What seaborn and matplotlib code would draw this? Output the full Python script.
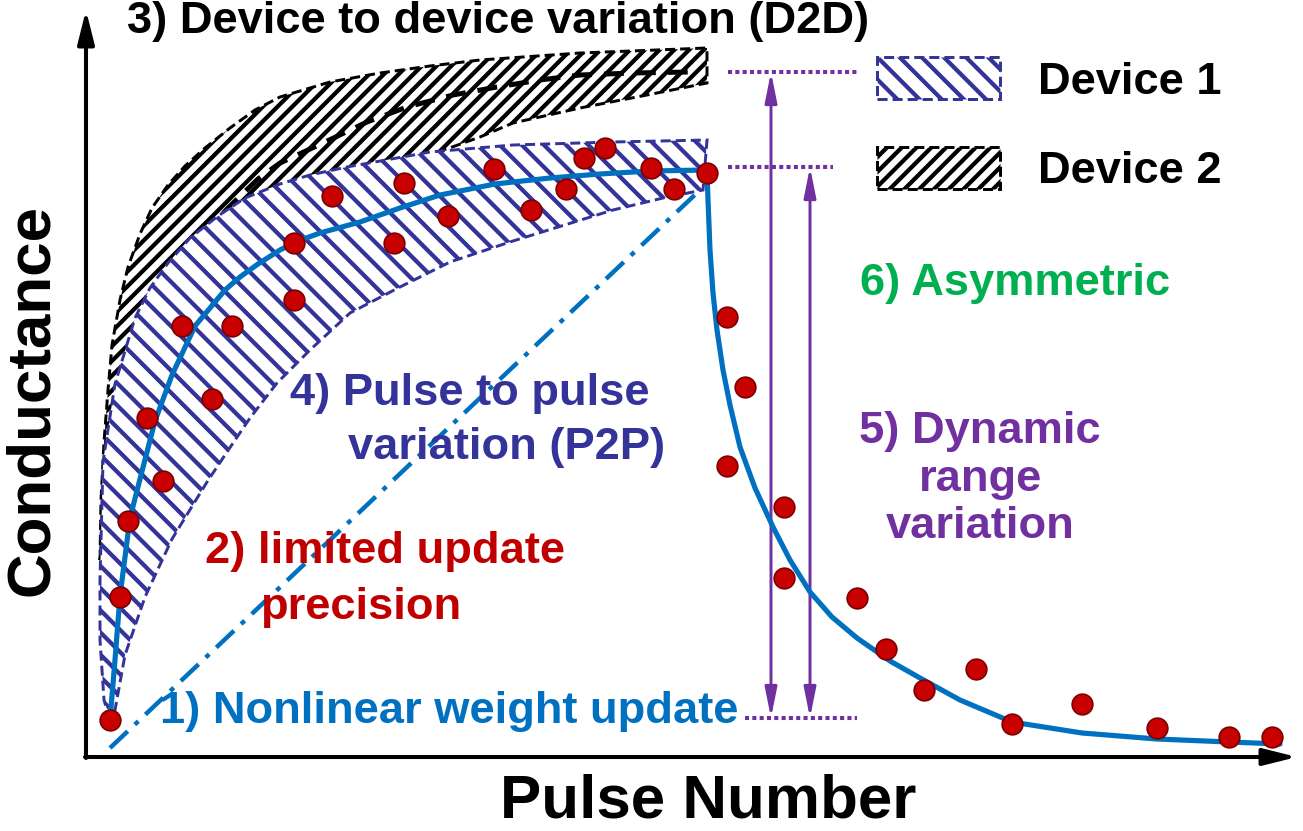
import numpy as np
import matplotlib
matplotlib.use("Agg")
import matplotlib.pyplot as plt
from matplotlib.patches import Patch
import seaborn as sns

# --- data (pulse number, conductance) ---
pot_pulse = [24, 34, 42, 61, 77, 96, 126, 146, 208, 208, 246, 308, 318, 362, 408, 445, 480, 498, 519, 565, 588, 621]
pot_cond = [37, 160, 236, 339, 276, 431, 358, 431, 457, 514, 561, 514, 574, 541, 588, 547, 568, 599, 609, 589, 568, 584]
dep_pulse = [641, 659, 641, 698, 698, 771, 800, 838, 890, 926, 996, 1071, 1143, 1186]
dep_cond = [440, 370, 291, 250, 179, 159, 108, 67, 88, 33, 53, 29, 20, 20]

fit_pot_x = [24, 29, 34, 44, 54, 69, 86, 109, 139, 154, 172, 194, 212, 234, 274, 314, 354, 409, 464, 514, 564, 621]
fit_pot_y = [37, 97, 161, 239, 278, 336, 382, 431, 467, 480, 493, 507, 516, 524, 535, 549, 562, 573, 579, 583, 586, 587]
fit_dep_x = [621, 622, 624, 627, 631, 637, 644, 654, 669, 687, 704, 724, 746, 771, 804, 834, 874, 926, 996, 1071, 1143, 1194]
fit_dep_y = [585, 557, 507, 464, 427, 387, 352, 310, 269, 230, 197, 165, 140, 119, 96, 79, 57, 35, 24, 18, 15, 13]
linear_x = [24, 614]
linear_y = [9, 567]

d1_up_x = [24, 18, 14, 14, 17, 29, 49, 64, 82, 104, 132, 159, 194, 224, 261, 344, 427, 527, 621]
d1_up_y = [37, 57, 117, 178, 295, 373, 439, 469, 494, 519, 541, 559, 573, 582, 590, 605, 612, 615, 617]
d1_lo_x = [29, 39, 59, 86, 121, 141, 164, 191, 224, 264, 314, 364, 427, 527, 577, 617]
d1_lo_y = [47, 102, 160, 218, 275, 305, 339, 374, 407, 444, 470, 495, 516, 547, 559, 567]

d2_up_x = [14, 15, 18, 22, 26, 34, 42, 54, 66, 82, 99, 119, 144, 169, 194, 244, 294, 344, 394, 494, 621]
d2_up_y = [197, 257, 315, 367, 412, 457, 490, 523, 549, 572, 591, 609, 629, 647, 660, 675, 684, 691, 697, 704, 709]
d2_lo_x = [621, 561, 494, 427, 394, 344, 264, 194, 114, 64, 34, 19, 14]
d2_lo_y = [674, 662, 649, 634, 620, 602, 577, 547, 487, 417, 337, 257, 197]
d2_mid_x = [114, 129, 142, 172, 194, 237, 281, 321, 367, 411, 454, 494, 547, 604]
d2_mid_y = [522, 535, 549, 578, 594, 614, 635, 650, 662, 670, 677, 682, 684, 685]

g_max_d2, g_max_d1, g_min = 685, 590, 39

NAVY = "#333399"
BLUE = "#0070C0"
PURPLE = "#7030A0"
RED = "#C00000"
GREEN = "#00B050"

sns.set_theme(style="white")
plt.rcParams["font.family"] = ["Liberation Sans", "DejaVu Sans"]
plt.rcParams["font.weight"] = "bold"
plt.rcParams["text.color"] = "black"
plt.rcParams["hatch.linewidth"] = 2.3

DPI = 133
fig = plt.figure(figsize=(1303 / DPI, 831 / DPI), dpi=DPI)
ax = fig.add_axes([86 / 1303, 74 / 831, 1211 / 1303, 747 / 831])
ax.set_xlim(0, 1211)
ax.set_ylim(0, 747)
ax.axis("off")

band_ls = (0, (3.4, 1.7))

# device 2 band (under device 1)
d2_x = d2_up_x + d2_lo_x
d2_y = d2_up_y + d2_lo_y
ax.fill(d2_x, d2_y, facecolor="white", edgecolor="black", hatch="///", lw=0, zorder=1)
ax.fill(d2_x, d2_y, fill=False, edgecolor="black", ls=band_ls, lw=1.6, zorder=1.2)
sns.lineplot(x=d2_mid_x, y=d2_mid_y, ax=ax, color="black", lw=2.7, sort=False,
             estimator=None, zorder=1.3)
ax.lines[-1].set_linestyle((0, (4, 2.4)))

# device 1 band
d1_x = d1_up_x + d1_lo_x[::-1]
d1_y = d1_up_y + d1_lo_y[::-1]
ax.fill(d1_x, d1_y, facecolor="white", edgecolor=NAVY, hatch="\\\\", lw=0, zorder=2)
ax.fill(d1_x, d1_y, fill=False, edgecolor=NAVY, ls=band_ls, lw=1.6, zorder=2.1)

# ideal linear update
sns.lineplot(x=linear_x, y=linear_y, ax=ax, color=BLUE, lw=2.4, sort=False,
             estimator=None, zorder=3)
ax.lines[-1].set_linestyle((0, (5.5, 2.2, 1.1, 2.2)))

# fitted potentiation / depression
sns.lineplot(x=fit_pot_x, y=fit_pot_y, ax=ax, color=BLUE, lw=2.8, sort=False,
             estimator=None, zorder=4)
sns.lineplot(x=fit_dep_x, y=fit_dep_y, ax=ax, color=BLUE, lw=2.8, sort=False,
             estimator=None, zorder=4)

# measured pulses
sns.scatterplot(x=pot_pulse + dep_pulse, y=pot_cond + dep_cond, ax=ax, s=125,
                color="#C80000", edgecolor="#7A0000", linewidth=0.9, zorder=5)

# dynamic range markers
dot_ls = (0, (1, 0.8))
ax.plot([642, 771], [g_max_d2, g_max_d2], color=PURPLE, lw=2.2, ls=dot_ls, zorder=3)
ax.plot([642, 747], [g_max_d1, g_max_d1], color=PURPLE, lw=2.2, ls=dot_ls, zorder=3)
ax.plot([659, 771], [g_min, g_min], color=PURPLE, lw=2.2, ls=dot_ls, zorder=3)
arr = dict(arrowstyle="<|-|>,head_length=0.8,head_width=0.16", color=PURPLE,
           lw=1.6, shrinkA=0, shrinkB=0, mutation_scale=17)
ax.annotate("", xy=(685, g_max_d2), xytext=(685, g_min), arrowprops=arr, zorder=3)
ax.annotate("", xy=(724, g_max_d1), xytext=(724, g_min), arrowprops=arr, zorder=3)

# axes arrows
ax_arr = dict(arrowstyle="-|>,head_length=0.8,head_width=0.2", color="black",
              lw=2.2, shrinkA=0, shrinkB=0, mutation_scale=19)
ax.annotate("", xy=(1211, 0), xytext=(-1, 0), arrowprops=ax_arr, annotation_clip=False)
ax.annotate("", xy=(0, 747), xytext=(0, -1), arrowprops=ax_arr, annotation_clip=False)

fs = 24.5
ax.text(41, 735, "3) Device to device variation (D2D)", fontsize=fs, fontweight="bold",
        color="black", va="center", ha="left", zorder=6)
ax.text(774, 474, "6) Asymmetric", fontsize=fs, fontweight="bold", color=GREEN,
        va="center", ha="left", zorder=6)
ax.text(894, 278, "5) Dynamic\nrange\nvariation", fontsize=fs, fontweight="bold",
        color=PURPLE, va="center", ha="center", multialignment="center",
        linespacing=1.2, zorder=6)
ax.text(204, 364, "4) Pulse to pulse", fontsize=fs, fontweight="bold", color=NAVY,
        va="center", ha="left", zorder=6)
ax.text(262, 309, "variation (P2P)", fontsize=fs, fontweight="bold", color=NAVY,
        va="center", ha="left", zorder=6)
ax.text(119, 205, "2) limited update", fontsize=fs, fontweight="bold", color=RED,
        va="center", ha="left", zorder=6)
ax.text(174, 150, "precision", fontsize=fs, fontweight="bold", color=RED,
        va="center", ha="left", zorder=6)
ax.text(74, 45, "1) Nonlinear weight update", fontsize=fs, fontweight="bold", color=BLUE,
        va="center", ha="left", zorder=6)

handles = [
    Patch(facecolor="white", edgecolor=NAVY, hatch="\\\\", ls=band_ls, lw=1.6, label="Device 1"),
    Patch(facecolor="white", edgecolor="black", hatch="///", ls=band_ls, lw=1.6, label="Device 2"),
]
ax.legend(handles=handles, loc="upper left", bbox_to_anchor=(0.653, 0.937), frameon=False,
          borderpad=0, borderaxespad=0, handlelength=2.72, handleheight=1.06,
          handletextpad=0.84, labelspacing=0.97, prop={"weight": "bold", "size": fs})

fig.text(33 / 1303, 1 - 400 / 831, "Conductance", rotation=90, fontsize=33.5,
         fontweight="bold", va="center", ha="center", color="black")
fig.text(708 / 1303, 1 - 802 / 831, "Pulse Number", fontsize=33.5, fontweight="bold",
         va="center", ha="center", color="black")

fig.savefig("out.png", dpi=DPI)
